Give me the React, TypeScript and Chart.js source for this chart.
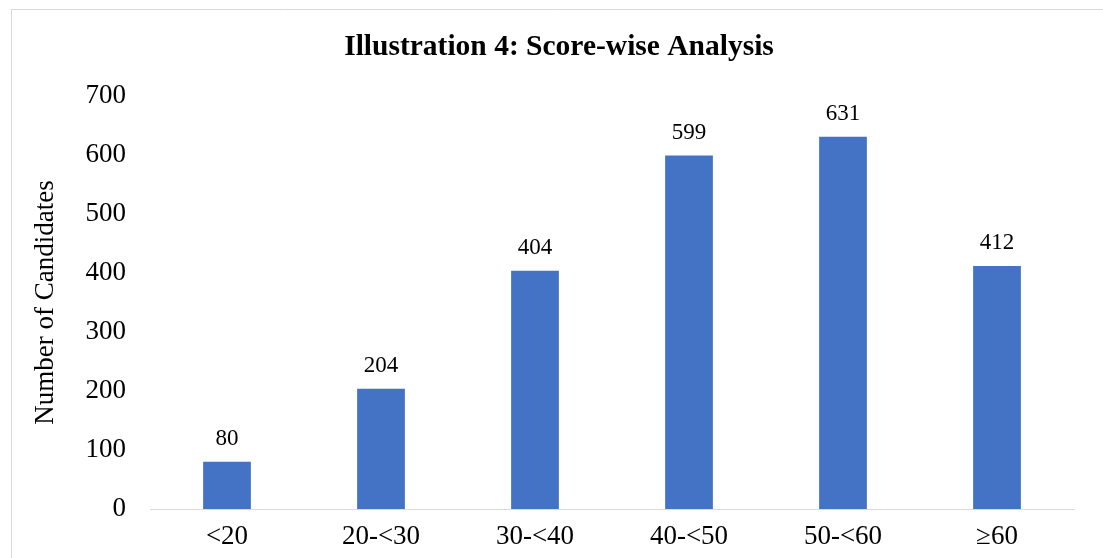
import React, { useEffect, useRef } from "react";
import { Chart, registerables } from "chart.js";

Chart.register(...registerables);

const categories = ["<20", "20-<30", "30-<40", "40-<50", "50-<60", "≥60"];
const candidates = [80, 204, 404, 599, 631, 412];
const yTicks = [0, 100, 200, 300, 400, 500, 600, 700];
const chartTitle = "Illustration 4: Score-wise Analysis";

const FONT = "'Liberation Serif', 'Times New Roman', serif";

const framePlugin = {
  id: "frame",
  beforeDraw(chart: any) {
    const ctx = chart.ctx;
    ctx.save();
    ctx.fillStyle = "#ffffff";
    ctx.fillRect(0, 0, chart.width, chart.height);
    ctx.strokeStyle = "#d9d9d9";
    ctx.lineWidth = 1;
    ctx.beginPath();
    ctx.moveTo(11.5, chart.height);
    ctx.lineTo(11.5, 9.5);
    ctx.lineTo(chart.width, 9.5);
    ctx.stroke();
    ctx.fillStyle = "#000000";
    ctx.font = `bold 29.5px ${FONT}`;
    ctx.textAlign = "center";
    ctx.textBaseline = "middle";
    ctx.fillText(chartTitle, 559, 47);
    ctx.restore();
  },
};

const labelPlugin = {
  id: "barLabels",
  afterDatasetsDraw(chart: any) {
    const ctx = chart.ctx;
    const meta = chart.getDatasetMeta(0);
    ctx.save();
    ctx.font = `23px ${FONT}`;
    ctx.fillStyle = "#000000";
    ctx.textAlign = "center";
    ctx.textBaseline = "middle";
    meta.data.forEach((el: any, i: number) => {
      ctx.fillText(String(candidates[i]), el.x, el.y - 23);
    });
    ctx.restore();
  },
};

export default function App() {
  const ref = useRef<HTMLCanvasElement>(null);
  useEffect(() => {
    if (!ref.current) return;
    const chart = new Chart(ref.current, {
      type: "bar",
      data: {
        labels: categories,
        datasets: [
          {
            data: candidates,
            backgroundColor: "#4472C4",
            barPercentage: 0.31,
            categoryPercentage: 1,
          },
        ],
      },
      plugins: [framePlugin, labelPlugin],
      options: {
        animation: false,
        responsive: false,
        layout: { padding: { left: 12, right: 29, top: 96, bottom: 0 } },
        plugins: {
          legend: { display: false },
          tooltip: { enabled: false },
          title: { display: false },
        },
        scales: {
          x: {
            grid: { display: false, drawTicks: false },
            border: { display: true, color: "#d9d9d9", width: 1 },
            ticks: {
              color: "#000000",
              font: { family: FONT, size: 27 },
              padding: 11.8,
              maxRotation: 0,
            },
            afterFit(scale: any) {
              scale.height = 49;
            },
          },
          y: {
            min: 0,
            max: 700,
            afterBuildTicks(scale: any) {
              scale.ticks = yTicks.map((v) => ({ value: v }));
            },
            afterFit(scale: any) {
              scale.width = 138;
            },
            grid: { display: false, drawTicks: false },
            border: { display: false },
            ticks: {
              color: "#000000",
              font: { family: FONT, size: 27 },
              padding: 24,
            },
            title: {
              display: true,
              text: "Number of Candidates",
              color: "#000000",
              font: { family: FONT, size: 27 },
              padding: { top: 17.8, bottom: 4 },
            },
          },
        },
      },
    });
    return () => chart.destroy();
  }, []);
  return (
    <div style={{ position: "absolute", left: 0, top: 0, width: 1103, height: 558 }}>
      <canvas ref={ref} width={1103} height={558} style={{ display: "block" }} />
    </div>
  );
}
